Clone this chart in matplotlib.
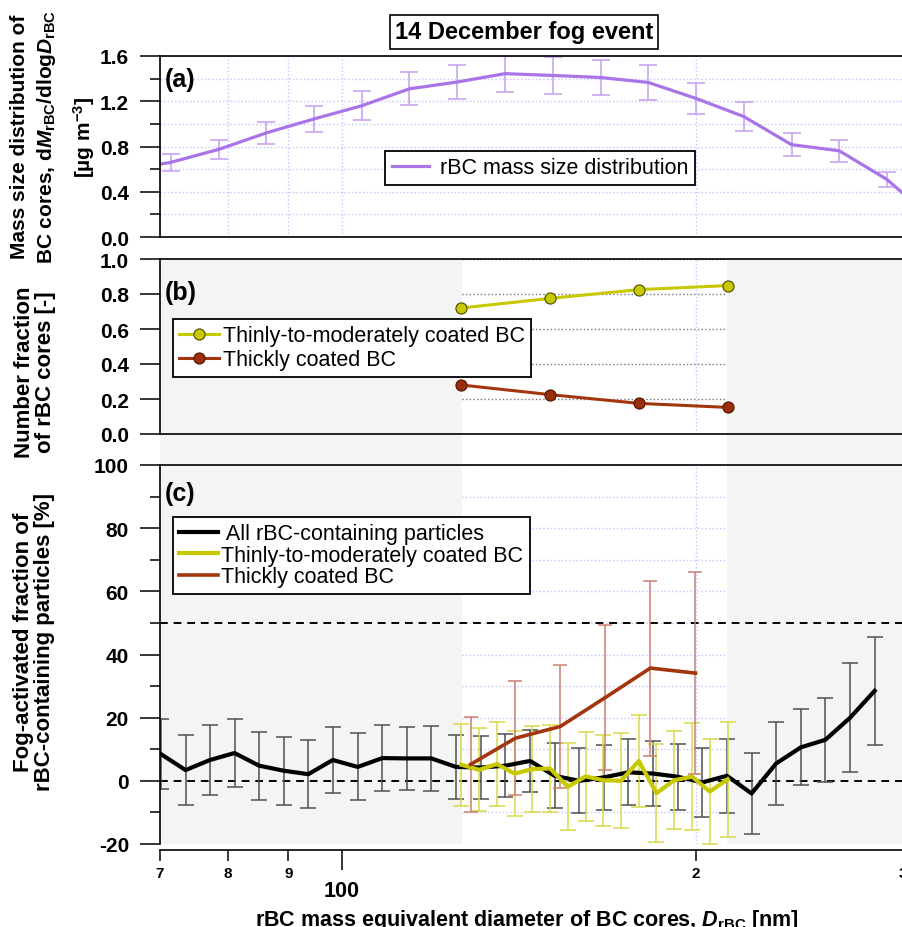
import matplotlib
matplotlib.use('Agg')
from matplotlib import pyplot as plt
from matplotlib.ticker import FixedLocator, FixedFormatter, MultipleLocator
from matplotlib.patches import Rectangle
from matplotlib.transforms import blended_transform_factory

plt.rcParams['font.family'] = ['Liberation Sans', 'DejaVu Sans']
plt.rcParams['font.weight'] = 'bold'
plt.rcParams['axes.unicode_minus'] = False
plt.rcParams['mathtext.fontset'] = 'custom'
plt.rcParams['mathtext.rm'] = 'Liberation Sans:bold'
plt.rcParams['mathtext.it'] = 'Liberation Sans:bold:italic'
plt.rcParams['mathtext.bf'] = 'Liberation Sans:bold'

# panel (a): rBC mass size distribution
d_mass = [65.1, 71.5, 78.5, 86.2, 94.6, 103.9, 114.1, 125.3, 137.6, 151.1,
          165.9, 182.2, 200.0, 219.6, 241.2, 264.8, 290.8, 319.3]
mass = [0.59, 0.66, 0.774, 0.92, 1.043, 1.16, 1.31, 1.37, 1.444, 1.428,
        1.41, 1.366, 1.225, 1.065, 0.816, 0.762, 0.508, 0.14]
mass_err = [0.07, 0.077, 0.087, 0.10, 0.118, 0.128, 0.146, 0.153, 0.158, 0.16,
            0.158, 0.158, 0.14, 0.128, 0.10, 0.099, 0.069, 0.05]

# panel (b): number fractions
d_frac = [126.3, 150.3, 178.8, 212.8]
frac_thin = [0.72, 0.775, 0.825, 0.848]
frac_thick = [0.28, 0.225, 0.175, 0.152]

# panel (c): fog-activated fractions
d_all = [70.1, 73.6, 77.2, 81.0, 85.0, 89.2, 93.6, 98.2, 103.1, 108.2,
         113.5, 119.1, 125.0, 131.2, 137.7, 144.5, 151.6, 159.1, 167.0, 175.2,
         183.9, 193.0, 202.5, 212.5, 223.0, 234.0, 245.6, 257.7, 270.5, 283.8]
act_all = [8.5, 3.4, 6.6, 8.8, 4.8, 3.2, 2.1, 6.6, 4.4, 7.2,
           7.1, 7.1, 4.4, 4.2, 4.8, 6.3, 1.6, 0.0, 1.1, 2.7,
           2.3, 1.3, -0.5, 1.6, -4.0, 5.5, 10.6, 13.0, 20.0, 28.5]
act_all_err = [11.1, 11.0, 11.0, 10.7, 10.8, 10.8, 10.7, 10.5, 10.6, 10.4,
               10.1, 10.2, 10.2, 9.9, 9.9, 9.9, 10.3, 10.3, 10.35, 10.4,
               10.4, 10.4, 10.8, 11.7, 12.8, 13.1, 12.05, 13.3, 17.2, 17.1]

d_thin = [126.3, 130.8, 135.4, 140.2, 145.1, 150.3, 155.6, 161.1, 166.8, 172.7,
          178.8, 185.1, 191.7, 198.5, 205.5, 212.8]
act_thin = [5.1, 3.5, 5.3, 2.3, 3.7, 3.9, -1.9, 1.4, 0.2, 0.0,
            6.3, -3.9, 0.2, 1.3, -3.4, 0.5]
act_thin_err = [13.0, 13.1, 13.2, 13.5, 13.6, 13.7, 13.8, 14.0, 14.4, 15.0,
                14.6, 15.5, 15.6, 17.0, 16.7, 18.2]

d_thick = [128.6, 140.4, 153.3, 167.5, 182.9, 199.8]
act_thick = [5.2, 13.5, 17.2, 26.4, 35.7, 34.1]
act_thick_err = [15.1, 18.0, 19.6, 23.0, 27.7, 32.0]

shade_lo, shade_hi = 126.5, 212.5
x_minor = [70, 80, 90, 200, 300]
x_minor_labels = ['7', '8', '9', '2', '3']

purple = '#a874e8'
purple_err = '#c9a6f2'
yellow = '#c8c800'
yellow_err = '#d9d94a'
brown = '#a3360c'
brown_err = '#c98070'
grey_bg = '#f4f4f4'
lav = '#c4c4ff'

fig = plt.figure(figsize=(9.03, 9.28), dpi=100)
L, W = 160 / 903, 743 / 903
ax_a = fig.add_axes([L, 1 - 238 / 928, W, 181 / 928])
ax_b = fig.add_axes([L, 1 - 435 / 928, W, 175 / 928])
ax_c = fig.add_axes([L, 1 - 845 / 928, W, 379 / 928])

for ax in (ax_a, ax_b, ax_c):
    ax.set_xscale('log')
    ax.set_xlim(70, 300)
    ax.set_axisbelow(True)
    ax.spines['right'].set_visible(False)
    for s in ('left', 'top', 'bottom'):
        ax.spines[s].set_linewidth(1.2)
    ax.xaxis.set_major_locator(FixedLocator([100]))
    ax.xaxis.set_minor_locator(FixedLocator(x_minor))
    ax.tick_params(axis='y', which='major', direction='out', length=14.4, width=1.1, pad=8, labelsize=15)
    ax.tick_params(axis='y', which='minor', direction='out', length=7.2, width=1.1)

leg_kw = dict(loc='upper left', borderaxespad=0, prop={'weight': 'normal', 'size': 15.5},
              fancybox=False, framealpha=1, edgecolor='black', borderpad=0.3)

# ---- panel (a)
ax_a.errorbar(d_mass, mass, yerr=mass_err, fmt='none', ecolor=purple_err, elinewidth=1.2, capsize=6.5, capthick=1.2)
ax_a.plot(d_mass, mass, color=purple, lw=2.3, label='rBC mass size distribution')
ax_a.set_ylim(0, 1.6)
ax_a.yaxis.set_major_locator(MultipleLocator(0.4))
ax_a.yaxis.set_minor_locator(MultipleLocator(0.2))
ax_a.grid(True, which='both', color=lav, ls=':', lw=1)
ax_a.tick_params(axis='x', which='both', length=0, labelbottom=False)
ax_a.text(0.006, 0.873, '(a)', transform=ax_a.transAxes, fontsize=18, va='center')
leg = ax_a.legend(bbox_to_anchor=(0.303, 0.475), handlelength=1.75, handletextpad=0.5, **leg_kw)
leg.get_frame().set_linewidth(1.3)

# ---- panel (b)
ax_b.set_facecolor('none')
ax_b.axvspan(70, shade_lo, color=grey_bg, lw=0, zorder=0.7)
ax_b.axvspan(shade_hi, 300, color=grey_bg, lw=0, zorder=0.7)
ax_b.plot(d_frac, frac_thin, color=yellow, lw=2.2, marker='o', ms=8, mfc=yellow, mec='#4a4a00', mew=0.8,
          label='Thinly-to-moderately coated BC', zorder=3)
ax_b.plot(d_frac, frac_thick, color=brown, lw=2.2, marker='o', ms=8, mfc='#9a2e08', mec='#4a1500', mew=0.8,
          label='Thickly coated BC', zorder=3)
ax_b.set_ylim(0, 1.0)
ax_b.yaxis.set_major_locator(MultipleLocator(0.2))
ax_b.grid(True, axis='y', which='major', color='#777777', ls=':', lw=1)
ax_b.grid(True, axis='x', which='both', color=lav, ls=':', lw=1)
ax_b.tick_params(axis='x', which='both', length=0, labelbottom=False)
ax_b.text(0.006, 0.811, '(b)', transform=ax_b.transAxes, fontsize=18, va='center')
leg = ax_b.legend(bbox_to_anchor=(0.0175, 0.657), handlelength=1.85, handletextpad=0.15,
                  labelspacing=0.12, numpoints=1, **leg_kw)
leg.get_frame().set_linewidth(1.3)

# ---- panel (c)
ax_c.set_facecolor('none')
ax_c.axvspan(70, shade_lo, color=grey_bg, lw=0, zorder=0.7)
ax_c.axvspan(shade_hi, 300, color=grey_bg, lw=0, zorder=0.7)
ax_c.axhline(0, color='black', lw=1.4, dashes=(4, 3), zorder=1)
ax_c.axhline(50, color='black', lw=1.4, dashes=(4, 3), zorder=1)
ax_c.errorbar(d_all, act_all, yerr=act_all_err, fmt='none', ecolor='#505050', elinewidth=1.1, capsize=6, capthick=1.1, zorder=2)
ax_c.errorbar(d_thin, act_thin, yerr=act_thin_err, fmt='none', ecolor=yellow_err, elinewidth=1.1, capsize=6, capthick=1.1, zorder=2.1)
ax_c.errorbar(d_thick, act_thick, yerr=act_thick_err, fmt='none', ecolor=brown_err, elinewidth=1.1, capsize=5, capthick=1.1, zorder=2.2)
ax_c.plot(d_all, act_all, color='black', lw=3, label=' All rBC-containing particles', zorder=3)
ax_c.plot(d_thin, act_thin, color=yellow, lw=3, label='Thinly-to-moderately coated BC', zorder=3.1)
ax_c.plot(d_thick, act_thick, color=brown, lw=2.6, label='Thickly coated BC', zorder=3.2)
ax_c.set_ylim(-20, 100)
ax_c.yaxis.set_major_locator(MultipleLocator(20))
ax_c.yaxis.set_minor_locator(MultipleLocator(10))
ax_c.grid(True, which='both', color=lav, ls=':', lw=1)
ax_c.spines['bottom'].set_position(('outward', 4.5))
ax_c.xaxis.set_major_formatter(FixedFormatter(['100']))
ax_c.xaxis.set_minor_formatter(FixedFormatter(x_minor_labels))
ax_c.tick_params(axis='x', which='major', direction='out', length=14.4, width=1.1, pad=7, labelsize=15.5)
ax_c.tick_params(axis='x', which='minor', direction='out', length=8, width=1.1, pad=3, labelsize=11)
ax_c.text(0.006, 0.926, '(c)', transform=ax_c.transAxes, fontsize=18, va='center')
leg = ax_c.legend(bbox_to_anchor=(0.0175, 0.863), handlelength=1.8, handletextpad=0.15,
                  labelspacing=0.02, **leg_kw)
leg.get_frame().set_linewidth(1.3)

# grey band continues through the gap between (b) and (c)
trans = blended_transform_factory(ax_c.transData, fig.transFigure)
for x0, x1 in ((70, shade_lo), (shade_hi, 300)):
    fig.add_artist(Rectangle((x0, 1 - 466 / 928), x1 - x0, 31 / 928, transform=trans,
                             facecolor=grey_bg, lw=0, zorder=-1))

# labels
fig.text(524 / 903, 1 - 33 / 928, '14 December fog event', ha='center', va='center', fontsize=17,
         bbox=dict(boxstyle='square,pad=0.22', fc='white', ec='black', lw=1.2))
fig.text(34 / 903, 1 - 137 / 928,
         'Mass size distribution of\nBC cores, d$M_{\\mathrm{rBC}}$/dlog$D_{\\mathrm{rBC}}$',
         rotation=90, ha='center', va='center', fontsize=15, multialignment='center', linespacing=1.35)
fig.text(84 / 903, 1 - 137 / 928, '[\u00b5g m$^{\\mathrm{-3}}$]',
         rotation=90, ha='center', va='center', fontsize=15)
fig.text(35 / 903, 1 - 372 / 928, 'Number fraction\nof rBC cores [-]', rotation=90,
         ha='center', va='center', fontsize=16, multialignment='center', linespacing=1.05)
fig.text(34 / 903, 1 - 642 / 928, 'Fog-activated fraction of\nrBC-containing particles [%]', rotation=90,
         ha='center', va='center', fontsize=16, multialignment='center', linespacing=1.05)
fig.text(527 / 903, 1 - 926 / 928, 'rBC mass equivalent diameter of BC cores, $D_{\\mathrm{rBC}}$ [nm]',
         ha='center', va='baseline', fontsize=15.5)

fig.savefig('out.png', dpi=100)
